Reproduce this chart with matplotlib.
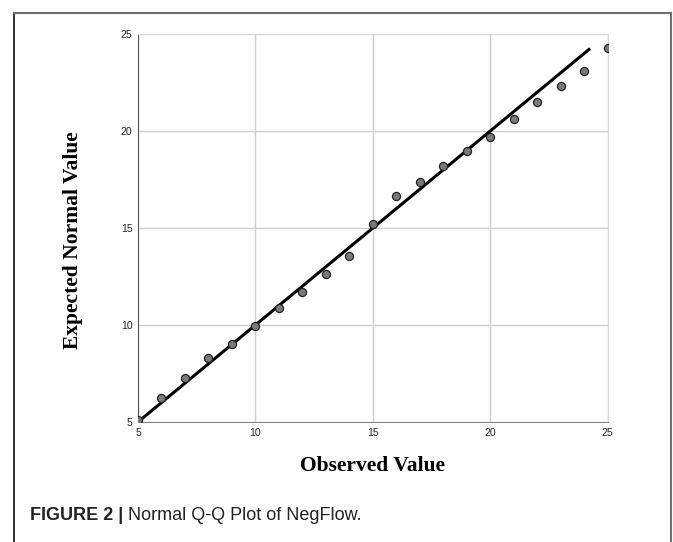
import numpy as np
import matplotlib.pyplot as plt
from matplotlib.lines import Line2D

# Datos (Q-Q normal de NegFlow)
observed = [5, 6, 7, 8, 9, 10, 11, 12, 13, 14, 15,
            16, 17, 18, 19, 20, 21, 22, 23, 24, 25]
expected = [5.08, 6.22, 7.27, 8.30, 9.02, 9.93, 10.88, 11.70, 12.61, 13.57, 15.19,
            16.65, 17.39, 18.21, 18.97, 19.71, 20.62, 21.51, 22.34, 23.09, 24.26]
line_x = [5, 24.2]
ticks = [5, 10, 15, 20, 25]

fig = plt.figure(figsize=(6.73, 5.42), dpi=100)
ax = fig.add_axes([0.205, 0.2214, 0.698, 0.7159])

ax.set_xlim(5, 25)
ax.set_ylim(5, 25)
ax.set_xticks(ticks)
ax.set_yticks(ticks)
ax.grid(True, color='#cfcfcf', linewidth=1.0)
ax.set_axisbelow(True)
ax.tick_params(length=0, labelsize=7.5, pad=4, colors='#222222')
for lab in ax.get_xticklabels() + ax.get_yticklabels():
    lab.set_family('Liberation Sans')

ax.spines['left'].set_color('#555555')
ax.spines['bottom'].set_color('#888888')
ax.spines['top'].set_color('#d8d8d8')
ax.spines['right'].set_color('#d8d8d8')

ax.plot(line_x, line_x, color='black', linewidth=2.2, zorder=2)
ax.scatter(observed, expected, s=34, facecolor='#7a7a7a', edgecolor='#222222',
           linewidth=0.9, zorder=3)

ax.set_xlabel('Observed Value', family='Liberation Serif', fontweight='bold',
              fontsize=15.5, labelpad=13)
ax.set_ylabel('Expected Normal Value', family='Liberation Serif', fontweight='bold',
              fontsize=15.5)
ax.yaxis.set_label_coords(-0.117, 0.47)

# Marco exterior de la figura
fig.add_artist(Line2D([14/673, 14/673], [0, 1 - 13/542], color='#222222', linewidth=1.3))
fig.add_artist(Line2D([14/673, 671/673], [1 - 13/542, 1 - 13/542], color='#6f6f6f', linewidth=1.5))
fig.add_artist(Line2D([671/673, 671/673], [0, 1 - 13/542], color='#6f6f6f', linewidth=1.5))

# Pie de figura
t1 = fig.text(30/673, 1 - 515/542, 'FIGURE 2 |', family='Liberation Sans',
              fontweight='bold', fontsize=13, va='center', color='#222222')
fig.canvas.draw()
bb = t1.get_window_extent(fig.canvas.get_renderer())
fig.text((bb.x1 + 5) / 673, 1 - 515/542, 'Normal Q-Q Plot of NegFlow.',
         family='Liberation Sans', fontsize=13, va='center', color='#222222')

fig.savefig('out.png', dpi=100)
